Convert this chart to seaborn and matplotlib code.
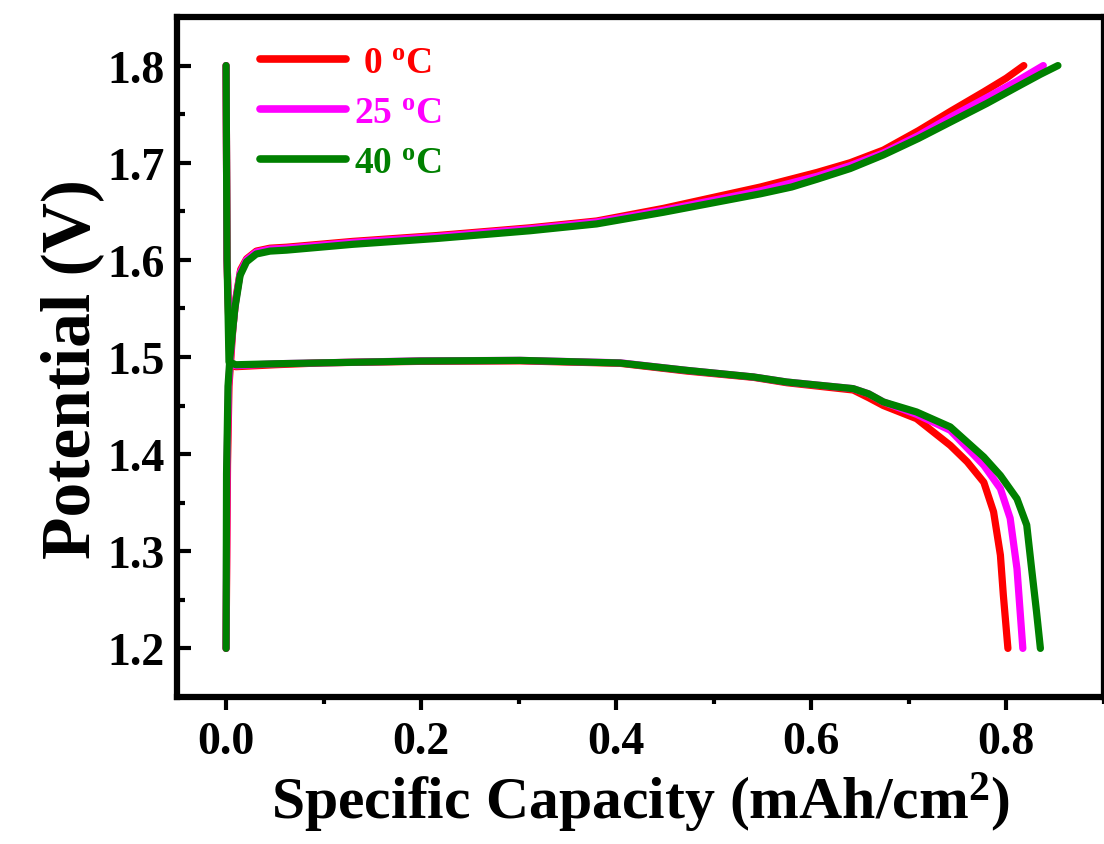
import numpy as np
import pandas as pd
import matplotlib
matplotlib.use("Agg")
import matplotlib.pyplot as plt
import seaborn as sns
from matplotlib.ticker import MultipleLocator

sns.set_theme(style="white")
plt.rcParams["font.family"] = ["Liberation Serif", "DejaVu Serif"]
plt.rcParams["font.weight"] = "bold"
plt.rcParams["mathtext.fontset"] = "custom"
plt.rcParams["mathtext.rm"] = "Liberation Serif:bold"
plt.rcParams["mathtext.bf"] = "Liberation Serif:bold"
plt.rcParams["mathtext.it"] = "Liberation Serif:bold"

# ---------------- data ----------------
series_labels = [" 0 $^{\\mathrm{o}}$C", "25 $^{\\mathrm{o}}$C", "40 $^{\\mathrm{o}}$C"]
series_colors = ["#ff0000", "#ff00ff", "#008000"]

# 0 degC
cap_chg_0 = [0.0, 0.0015, 0.003, 0.005, 0.007, 0.010, 0.015, 0.021, 0.031, 0.045, 0.062,
             0.13, 0.216, 0.312, 0.38, 0.4485, 0.548, 0.606, 0.64, 0.674, 0.71, 0.743, 0.777, 0.80, 0.818]
v_chg_0 = [1.20, 1.39, 1.47, 1.50, 1.53, 1.56, 1.59, 1.601, 1.609, 1.612, 1.613,
           1.619, 1.625, 1.633, 1.640, 1.653, 1.675, 1.690, 1.700, 1.713, 1.733, 1.753, 1.773, 1.787, 1.80]
cap_dis_0 = [0.0, 0.001, 0.004, 0.01, 0.05, 0.10, 0.199, 0.3015, 0.404, 0.4725, 0.541, 0.575,
             0.643, 0.659, 0.674, 0.708, 0.7426, 0.76, 0.777, 0.787, 0.794, 0.797, 0.8017]
v_dis_0 = [1.80, 1.60, 1.492, 1.490, 1.492, 1.494, 1.4955, 1.496, 1.4935, 1.4855, 1.479, 1.4735,
           1.466, 1.458, 1.450, 1.4365, 1.409, 1.392, 1.371, 1.3406, 1.296, 1.255, 1.20]

# 25 degC
cap_chg_25 = [0.0, 0.001, 0.0025, 0.0045, 0.0065, 0.0095, 0.0145, 0.021, 0.031, 0.045, 0.062,
              0.13, 0.216, 0.312, 0.38, 0.4485, 0.548, 0.606, 0.64, 0.674, 0.71, 0.743, 0.78, 0.811, 0.838]
v_chg_25 = [1.20, 1.39, 1.47, 1.50, 1.525, 1.555, 1.587, 1.600, 1.608, 1.611, 1.612,
            1.618, 1.624, 1.632, 1.639, 1.651, 1.671, 1.686, 1.697, 1.710, 1.728, 1.747, 1.767, 1.784, 1.80]
cap_dis_25 = [0.0, 0.001, 0.004, 0.01, 0.05, 0.10, 0.199, 0.3015, 0.404, 0.4725, 0.541, 0.575,
              0.643, 0.659, 0.674, 0.708, 0.7426, 0.777, 0.794, 0.804, 0.811, 0.814, 0.817]
v_dis_25 = [1.80, 1.60, 1.494, 1.491, 1.493, 1.494, 1.496, 1.4965, 1.494, 1.4862, 1.4794, 1.4742,
            1.4674, 1.462, 1.4537, 1.441, 1.4245, 1.3885, 1.3645, 1.334, 1.282, 1.241, 1.20]

# 40 degC
cap_chg_40 = [0.0, 0.0005, 0.002, 0.004, 0.006, 0.009, 0.0144, 0.021, 0.031, 0.045, 0.062,
              0.13, 0.216, 0.312, 0.38, 0.4485, 0.548, 0.58, 0.606, 0.64, 0.674, 0.71, 0.743,
              0.78, 0.811, 0.835, 0.853]
v_chg_40 = [1.20, 1.38, 1.47, 1.50, 1.52, 1.55, 1.584, 1.598, 1.606, 1.609, 1.610,
            1.616, 1.622, 1.630, 1.637, 1.649, 1.668, 1.675, 1.683, 1.694, 1.708, 1.725, 1.742,
            1.761, 1.778, 1.791, 1.80]
cap_dis_40 = [0.0, 0.001, 0.003, 0.01, 0.05, 0.10, 0.199, 0.3015, 0.404, 0.4725, 0.541, 0.575,
              0.643, 0.659, 0.674, 0.708, 0.7426, 0.777, 0.794, 0.811, 0.821, 0.826, 0.831, 0.835]
v_dis_40 = [1.80, 1.60, 1.495, 1.492, 1.493, 1.494, 1.4958, 1.4965, 1.4938, 1.4862, 1.4794, 1.4742,
            1.4674, 1.462, 1.4537, 1.4434, 1.428, 1.397, 1.378, 1.354, 1.327, 1.282, 1.238, 1.20]

x_ticks = [0.0, 0.2, 0.4, 0.6, 0.8]
y_ticks = [1.2, 1.3, 1.4, 1.5, 1.6, 1.7, 1.8]

curves = [
    (series_labels[0], cap_chg_0, v_chg_0, cap_dis_0, v_dis_0),
    (series_labels[1], cap_chg_25, v_chg_25, cap_dis_25, v_dis_25),
    (series_labels[2], cap_chg_40, v_chg_40, cap_dis_40, v_dis_40),
]
rows = []
for lab, xc, yc, xd, yd in curves:
    for seg, xs, ys in (("charge", xc, yc), ("discharge", xd, yd)):
        for i, (xv, yv) in enumerate(zip(xs, ys)):
            rows.append({"series": lab, "segment": seg, "order": i, "cap": xv, "volt": yv})
df = pd.DataFrame(rows)

# ---------------- figure ----------------
fig = plt.figure(figsize=(11.04, 8.45), dpi=100)
fig.patch.set_facecolor("white")
ax = fig.add_axes([0.1606, 0.174, 0.8392, 0.8047])
ax.set_facecolor("white")

sns.lineplot(data=df, x="cap", y="volt", hue="series", units="segment",
             estimator=None, sort=False, hue_order=series_labels,
             palette=dict(zip(series_labels, series_colors)),
             linewidth=5.2, ax=ax, legend="auto")
for ln in ax.lines:
    ln.set_solid_capstyle("round")
    ln.set_solid_joinstyle("round")

ax.set_xlim(-0.05, 0.9)
ax.set_ylim(1.15, 1.85)
ax.set_xticks(x_ticks)
ax.set_yticks(y_ticks)
ax.xaxis.set_minor_locator(MultipleLocator(0.1))
ax.yaxis.set_minor_locator(MultipleLocator(0.05))
ax.set_xticklabels([f"{v:.1f}" for v in x_ticks])
ax.set_yticklabels([f"{v:.1f}" for v in y_ticks])

ax.tick_params(axis="y", which="major", direction="in", length=10, width=3,
               labelsize=33, pad=9, left=True, right=False, colors="black")
ax.tick_params(axis="y", which="minor", direction="in", length=6, width=3,
               left=True, right=False, colors="black")
ax.tick_params(axis="x", which="major", direction="out", length=9, width=3,
               labelsize=33, pad=8, bottom=True, top=False, colors="black")
ax.tick_params(axis="x", which="minor", direction="out", length=5, width=3,
               bottom=True, top=False, colors="black")
for s in ax.spines.values():
    s.set_visible(True)
    s.set_linewidth(4.5)
    s.set_color("black")

ax.set_xlabel("Specific Capacity (mAh/cm$^{\\mathrm{2}}$)", fontsize=43,
              fontweight="bold", labelpad=5, color="black")
ax.set_ylabel("Potential (V)", fontsize=50, fontweight="bold", color="black")
ax.yaxis.set_label_coords(-0.079, 0.483)

handles, labels = ax.get_legend_handles_labels()
for h in handles:
    h.set_linewidth(5.5)
    h.set_solid_capstyle("round")
leg = ax.legend(handles, labels, loc="upper left", bbox_to_anchor=(0.0893, 0.958),
                frameon=False, handlelength=2.3, handletextpad=0.2,
                labelspacing=0.4, borderpad=0, borderaxespad=0, labelcolor="linecolor",
                prop={"family": "Liberation Serif", "weight": "bold", "size": 27})

fig.savefig("out.png", dpi=100, facecolor="white")
